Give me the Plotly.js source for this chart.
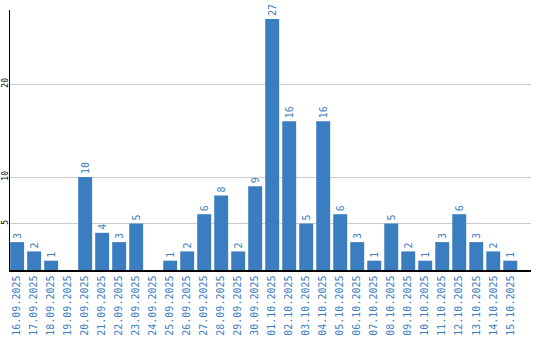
<!DOCTYPE html>
<html>
<head>
<meta charset="utf-8">
<script src="https://cdn.plot.ly/plotly-3.0.1.min.js"></script>
<style>html,body{margin:0;padding:0;background:#fff;}#chart{width:540px;height:340px;}</style>
</head>
<body>
<div id="chart"></div>
<script>
const dates = ["16.09.2025","17.09.2025","18.09.2025","19.09.2025","20.09.2025","21.09.2025","22.09.2025","23.09.2025","24.09.2025","25.09.2025","26.09.2025","27.09.2025","28.09.2025","29.09.2025","30.09.2025","01.10.2025","02.10.2025","03.10.2025","04.10.2025","05.10.2025","06.10.2025","07.10.2025","08.10.2025","09.10.2025","10.10.2025","11.10.2025","12.10.2025","13.10.2025","14.10.2025","15.10.2025"];
const counts = [3,2,1,0,10,4,3,5,0,1,2,6,8,2,9,27,16,5,16,6,3,1,5,2,1,3,6,3,2,1];
const yTicks = [5,10,20];

const blue = '#3b7dc1';
const mono = '"DejaVu Sans Mono", monospace';

Plotly.newPlot('chart', [{
  type: 'bar',
  x: dates,
  y: counts,
  marker: {color: blue},
  text: counts.map(v => v ? String(v) : ''),
  textposition: 'outside',
  textangle: -90,
  cliponaxis: false,
  constraintext: 'none',
  textfont: {family: mono, size: 10, color: blue},
  hoverinfo: 'none'
}], {
  width: 540, height: 340,
  margin: {l: 10, r: 9, t: 10, b: 70},
  paper_bgcolor: '#fff', plot_bgcolor: '#fff',
  bargap: 0.18,
  showlegend: false,
  xaxis: {
    type: 'category',
    range: [-0.42, 30.22],
    tickangle: -90,
    tickfont: {family: mono, size: 10, color: blue},
    showline: true, linecolor: '#000', linewidth: 1.5,
    showgrid: false, ticks: '', automargin: false, fixedrange: true
  },
  yaxis: {
    range: [0, 27.96],
    tickvals: yTicks,
    ticktext: yTicks.map(String),
    tickangle: -90,
    ticklabelstandoff: -3,
    tickfont: {family: mono, size: 8, color: '#000'},
    showline: true, linecolor: '#000', linewidth: 1.5,
    showgrid: true, gridcolor: '#cccccc', gridwidth: 1,
    zeroline: false, ticks: '', automargin: false, fixedrange: true
  }
}, {displayModeBar: false, staticPlot: true});
</script>
</body>
</html>
